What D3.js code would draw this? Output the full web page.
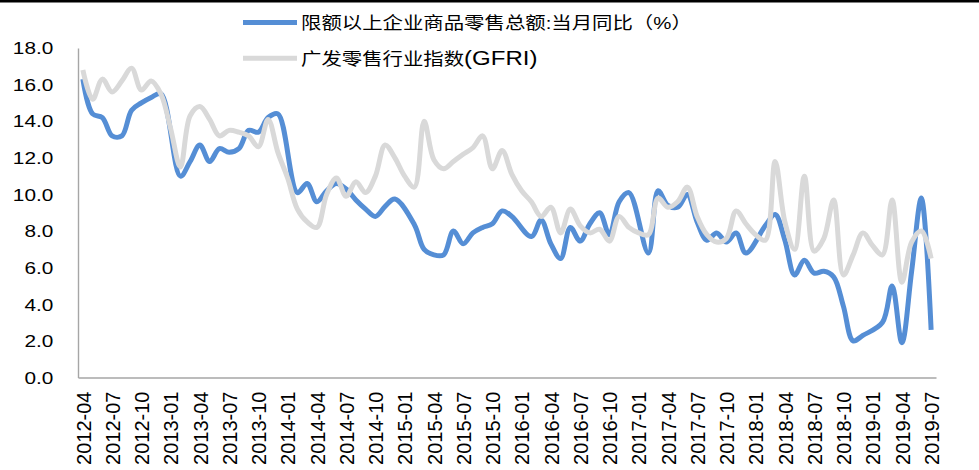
<!DOCTYPE html>
<html>
<head>
<meta charset="utf-8">
<script src="https://cdn.jsdelivr.net/npm/d3@7"></script>
<style>
body { margin: 0; background: #fff; }
svg { display: block; font-family: "Liberation Sans", Arial, "Noto Sans CJK SC", sans-serif; }
</style>
</head>
<body>
<svg id="chart"></svg>
<script>
// months 2012-04 .. 2019-07
var months = d3.range(88).map(i => d3.timeFormat("%Y-%m")(new Date(2012, 3 + i, 1)));

var tickLabels = ["2012-04", "2012-07", "2012-10", "2013-01", "2013-04", "2013-07", "2013-10",
    "2014-01", "2014-04", "2014-07", "2014-10", "2015-01", "2015-04", "2015-07", "2015-10",
    "2016-01", "2016-04", "2016-07", "2016-10", "2017-01", "2017-04", "2017-07", "2017-10",
    "2018-01", "2018-04", "2018-07", "2018-10", "2019-01", "2019-04", "2019-07"];

var yTicks = [0, 2, 4, 6, 8, 10, 12, 14, 16, 18];

var seriesNames = ["限额以上企业商品零售总额:当月同比（%）", "广发零售行业指数"];

// 限额以上企业商品零售总额:当月同比 (January not published)
var retailYoY = [
    16.3, 14.4, 14.2, 13.2, 13.2, 14.6, 15.0, 15.3, 15.5, null,
    11.0, 11.8, 12.7, 11.8, 12.5, 12.3, 12.5, 13.5, 13.4, 14.2, 14.4, null,
    10.1, 10.6, 9.6, 10.2, 10.6, 10.3, 9.7, 9.2, 8.8, 9.35, 9.75, null,
    8.35, 7.0, 6.7, 6.7, 8.0, 7.3, 7.9, 8.2, 8.4, 9.1, 8.8, null,
    7.7, 8.6, 7.3, 6.5, 8.2, 7.45, 8.4, 9.0, 7.8, 9.6, 10.1, null,
    6.8, 10.2, 9.4, 9.3, 10.0, 8.5, 7.5, 7.9, 7.4, 7.9, 6.8, null,
    8.3, 8.9, 7.5, 5.6, 6.4, 5.7, 5.8, 5.5, 3.9, 2.0, 2.3, null,
    3.0, 5.0, 1.9, 5.8, 9.8, 2.6
];

// 广发零售行业指数(GFRI)
var gfri = [
    16.8, 15.2, 16.3, 15.6, 16.2, 16.9, 15.7, 16.2, 15.5, 13.6,
    11.5, 14.3, 14.8, 14.1, 13.2, 13.5, 13.4, 13.2, 12.6, 14.1,
    12.3, 10.9, 9.2, 8.5, 8.2, 10.0, 10.9, 9.9, 10.7, 10.1,
    11.0, 12.7, 12.0, 11.0, 10.4, 14.0, 11.9, 11.4, 11.8, 12.2,
    12.55, 13.2, 11.4, 12.4, 11.1, 10.2, 9.6, 8.8, 9.3, 7.9,
    9.2, 8.3, 7.9, 8.1, 7.45, 8.8, 8.2, 7.9, 7.8, 9.8,
    9.3, 9.6, 10.4, 8.8, 7.8, 7.4, 7.6, 9.1, 8.4, 7.8,
    7.5, 11.8, 8.5, 7.0, 11.0, 6.9, 7.6, 9.7, 5.6, 6.7,
    7.9, 7.2, 6.7, 9.7, 5.2, 7.4, 8.0, 6.5
];

var width = 979,
    height = 470;

var svg = d3.select("#chart")
    .attr("width", width)
    .attr("height", height);

// black rule along the top
svg.append("rect")
    .attr("x", 0).attr("y", 0)
    .attr("width", width).attr("height", 2.5)
    .attr("fill", "#000");

var x = d3.scalePoint()
    .domain(months)
    .range([78, 936])
    .padding(0.5);

var y = d3.scaleLinear()
    .domain([0, 18])
    .range([377.5, 48]);

// y axis
var yAxis = svg.append("g")
    .attr("transform", "translate(78,0)")
    .call(d3.axisLeft(y).tickValues(yTicks).tickSize(0).tickFormat(d3.format(".1f")));

yAxis.select(".domain").attr("stroke", "#a6a6a6").attr("stroke-width", 1.4);
yAxis.selectAll("text")
    .attr("x", -19)
    .attr("dy", "0.36em")
    .attr("transform", "scale(1.3,1)")
    .style("font-size", "16px")
    .attr("fill", "#000");

// x axis
var xAxis = svg.append("g")
    .attr("transform", "translate(0,377.5)")
    .call(d3.axisBottom(x).tickValues(tickLabels).tickSize(0));

xAxis.select(".domain").attr("stroke", "#a6a6a6").attr("stroke-width", 1.4);
xAxis.selectAll("text")
    .attr("y", 0)
    .attr("x", 0)
    .attr("dy", "0.36em")
    .attr("text-anchor", "end")
    .attr("transform", "translate(0,14) rotate(-90)")
    .style("font-size", "20px")
    .attr("fill", "#000");

var line = d3.line()
    .x(d => x(d.m))
    .y(d => y(d.v))
    .curve(d3.curveCatmullRom);

var blueData = months.map((m, i) => ({ m: m, v: retailYoY[i] })).filter(d => d.v != null);
var grayData = months.map((m, i) => ({ m: m, v: gfri[i] }));

svg.append("path")
    .datum(blueData)
    .attr("fill", "none")
    .attr("stroke", "#558ed5")
    .attr("stroke-width", 5)
    .attr("stroke-linejoin", "round")
    .attr("d", line);

svg.append("path")
    .datum(grayData)
    .attr("fill", "none")
    .attr("stroke", "#d9d9d9")
    .attr("stroke-width", 5)
    .attr("stroke-linejoin", "round")
    .attr("d", line);

// legend
var legend = svg.append("g");
var legendRows = [
    { color: "#558ed5", y: 22.5 },
    { color: "#d9d9d9", y: 58.3 }
];

legend.selectAll("line")
    .data(legendRows)
    .join("line")
    .attr("x1", 243).attr("x2", 297)
    .attr("y1", d => d.y).attr("y2", d => d.y)
    .attr("stroke", d => d.color)
    .attr("stroke-width", 5);

var legendText = legend.selectAll("text")
    .data(legendRows)
    .join("text")
    .attr("transform", d => `translate(301,${d.y}) scale(1.2,1)`)
    .attr("dy", "0.38em")
    .style("font-size", "17px")
    .attr("fill", "#000")
    .text((d, i) => seriesNames[i]);

legendText.filter((d, i) => i === 1)
    .append("tspan")
    .style("font-size", "20px")
    .text("(GFRI)");
</script>
</body>
</html>
